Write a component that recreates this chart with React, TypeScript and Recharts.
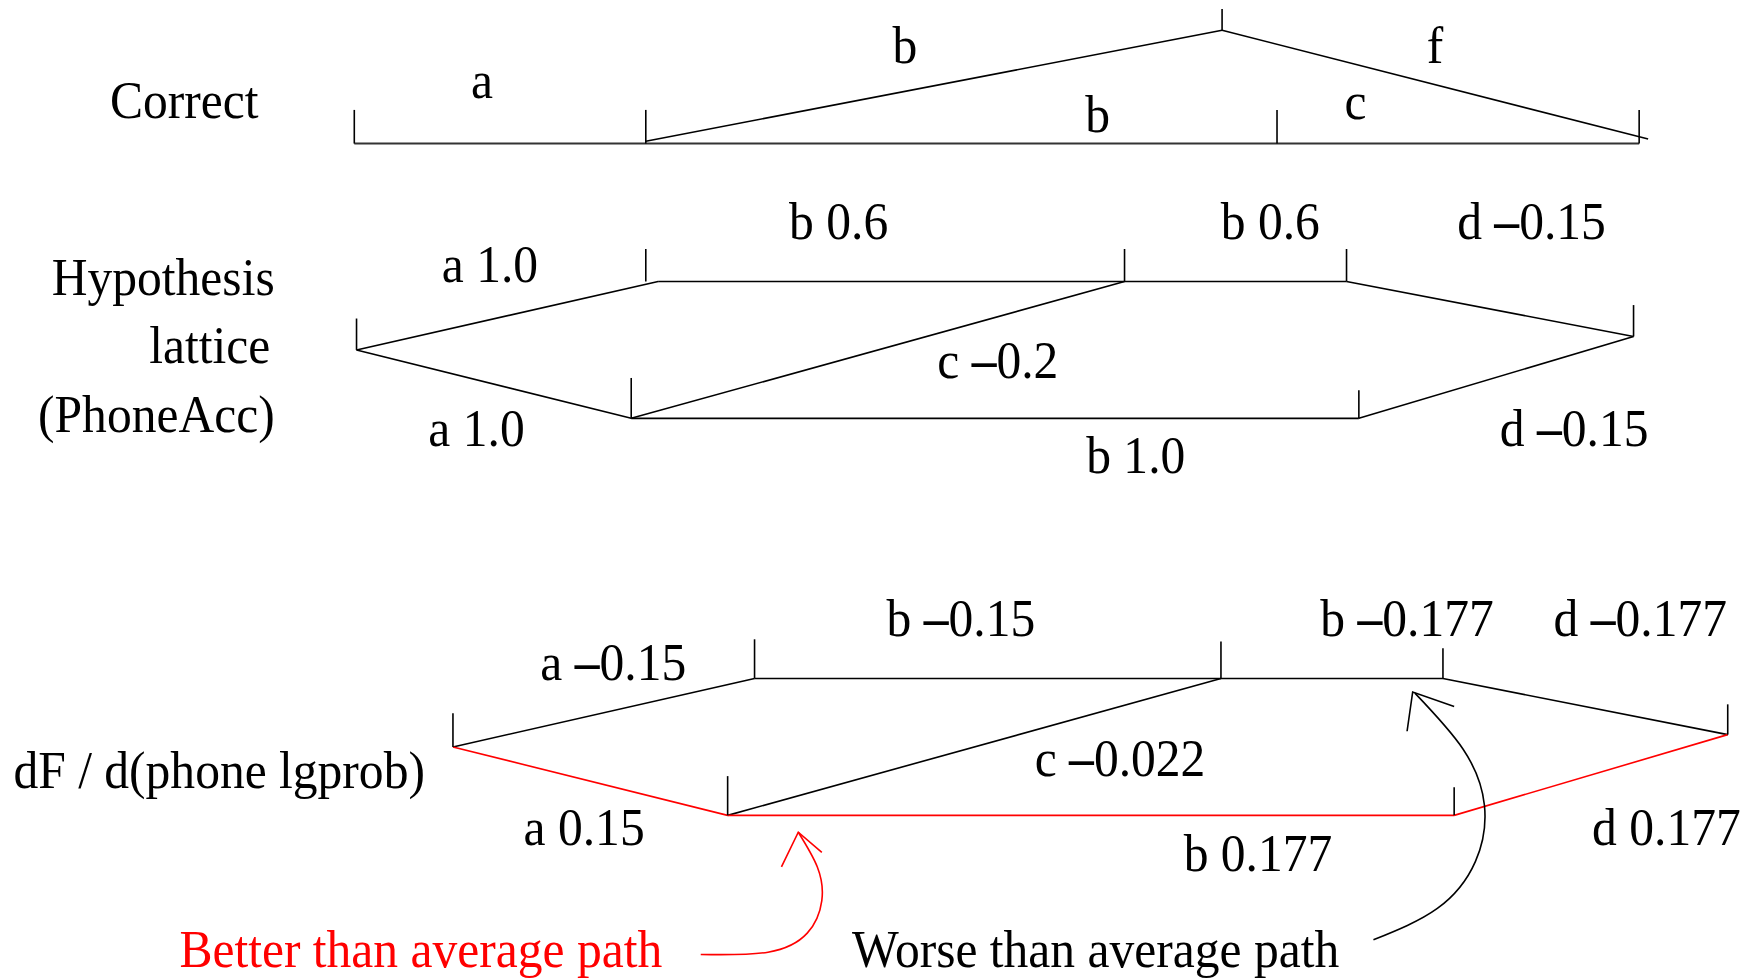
import React from "react";
import { ScatterChart, Scatter, XAxis, YAxis } from "recharts";

// diagram space (x right, y down)
const VIEW_W = 1568;
const VIEW_H = 872;

type P = [number, number];
type Seg = { pts: P[]; color: string; width?: number; curve?: boolean };
type Lbl = { x: number; y: number; text: string; color?: string; anchor?: "start" | "middle" | "end" };

// "Correct" transcription
const correctSegs: Seg[] = [
  { pts: [[316, 128], [1462, 128]], color: "#333", width: 2 },
  { pts: [[576, 126], [1090, 27]], color: "#000" },
  { pts: [[1090, 27], [1470, 124]], color: "#000" },
];
const correctTicks: P[][] = [
  [[316, 98], [316, 128]],
  [[576, 98], [576, 128]],
  [[1139, 98], [1139, 128]],
  [[1462, 98], [1462, 128]],
  [[1090, 8], [1090, 27]],
];

// hypothesis lattice (PhoneAcc)
const latticeSegs: Seg[] = [
  { pts: [[318, 312], [587, 251]], color: "#000" },
  { pts: [[587, 251], [1201, 251]], color: "#000" },
  { pts: [[1201, 251], [1457, 300]], color: "#000" },
  { pts: [[318, 312], [563, 373]], color: "#000" },
  { pts: [[563, 373], [1212, 373]], color: "#000" },
  { pts: [[1212, 373], [1457, 300]], color: "#000" },
  { pts: [[563, 373], [1003, 251]], color: "#000" },
];
const latticeTicks: P[][] = [
  [[318, 284], [318, 312]],
  [[576, 222], [576, 251]],
  [[1003, 222], [1003, 251]],
  [[1201, 222], [1201, 251]],
  [[1457, 272], [1457, 300]],
  [[563, 337], [563, 373]],
  [[1212, 348], [1212, 373]],
];

// dF / d(phone lgprob) lattice
const gradSegs: Seg[] = [
  { pts: [[404, 666], [673, 605]], color: "#000" },
  { pts: [[673, 605], [1287, 605]], color: "#000" },
  { pts: [[1287, 605], [1541, 655]], color: "#000" },
  { pts: [[649, 727], [1089, 605]], color: "#000" },
  { pts: [[404, 666], [649, 727]], color: "#ff0000" },
  { pts: [[649, 727], [1297, 727]], color: "#ff0000" },
  { pts: [[1297, 727], [1541, 655]], color: "#ff0000" },
];
const gradTicks: P[][] = [
  [[404, 636], [404, 666]],
  [[673, 570], [673, 605]],
  [[1089, 572], [1089, 605]],
  [[1287, 578], [1287, 605]],
  [[1541, 628], [1541, 655]],
  [[649, 692], [649, 727]],
  [[1297, 702], [1297, 727]],
];

// callout arrows
const arrowSegs: Seg[] = [
  { pts: [[625, 851], [685, 849], [720, 832], [733, 803], [729, 773], [712, 742]], color: "#ff0000", curve: true },
  { pts: [[697, 773], [712, 742], [733, 760]], color: "#ff0000" },
  { pts: [[1225, 838], [1282, 810], [1316, 768], [1324, 718], [1305, 668], [1262, 618]], color: "#000", curve: true },
  { pts: [[1255, 652], [1260, 617], [1297, 630]], color: "#000" },
];

const rowLabels: Lbl[] = [
  { x: 98, y: 105, text: "Correct", anchor: "start" },
  { x: 245, y: 263, text: "Hypothesis", anchor: "end" },
  { x: 241, y: 324, text: "lattice", anchor: "end" },
  { x: 245, y: 385, text: "(PhoneAcc)", anchor: "end" },
  { x: 12, y: 703, text: "dF / d(phone lgprob)", anchor: "start" },
];

const correctLabels: Lbl[] = [
  { x: 430, y: 87, text: "a" },
  { x: 807, y: 56, text: "b" },
  { x: 1280, y: 56, text: "f" },
  { x: 979, y: 118, text: "b" },
  { x: 1209, y: 106, text: "c" },
];

const latticeLabels: Lbl[] = [
  { x: 437, y: 251, text: "a 1.0" },
  { x: 748, y: 213, text: "b 0.6" },
  { x: 1133, y: 213, text: "b 0.6" },
  { x: 1366, y: 213, text: "d −0.15" },
  { x: 890, y: 337, text: "c −0.2" },
  { x: 425, y: 398, text: "a 1.0" },
  { x: 1013, y: 422, text: "b 1.0" },
  { x: 1404, y: 398, text: "d −0.15" },
];

const gradLabels: Lbl[] = [
  { x: 547, y: 606, text: "a −0.15" },
  { x: 857, y: 567, text: "b −0.15" },
  { x: 1255, y: 567, text: "b −0.177" },
  { x: 1463, y: 567, text: "d −0.177" },
  { x: 999, y: 692, text: "c −0.022" },
  { x: 521, y: 753, text: "a 0.15" },
  { x: 1122, y: 777, text: "b 0.177" },
  { x: 1420, y: 753, text: "d 0.177", anchor: "start" },
];

const noteLabels: Lbl[] = [
  { x: 160, y: 862, text: "Better than average path", color: "#ff0000", anchor: "start" },
  { x: 760, y: 862, text: "Worse than average path", anchor: "start" },
];

const FONT = "'Liberation Serif', 'Times New Roman', serif";

const toPts = (pts: P[]) => pts.map(([x, y]) => ({ x, y }));

const Empty = () => <g />;

// Times-like text, a little taller and narrower like the scanned figure
const TextShape = (props: any) => {
  const { cx, cy, payload } = props;
  const parts = String(payload.text).split("−");
  return (
    <text
      transform={`translate(${cx},${cy}) scale(0.935,1)`}
      x={0}
      y={0}
      textAnchor={payload.anchor || "middle"}
      fill={payload.color || "#000"}
      fontSize={53}
      fontFamily={FONT}
    >
      {parts.map((p: string, i: number) => (
        <React.Fragment key={i}>
          {i > 0 && <tspan fontWeight="bold">–</tspan>}
          {p}
        </React.Fragment>
      ))}
    </text>
  );
};

const allSegs: Seg[] = [
  ...correctSegs,
  ...correctTicks.map((pts) => ({ pts, color: "#000" })),
  ...latticeSegs,
  ...latticeTicks.map((pts) => ({ pts, color: "#000" })),
  ...gradSegs,
  ...gradTicks.map((pts) => ({ pts, color: "#000" })),
  ...arrowSegs,
];

const allLabels: Lbl[] = [...rowLabels, ...correctLabels, ...latticeLabels, ...gradLabels, ...noteLabels];

export default function App() {
  return (
    <div style={{ position: "absolute", left: 0, top: 0, background: "#fff" }}>
      <ScatterChart width={1758} height={978} margin={{ top: 0, right: 0, bottom: 0, left: 0 }}>
        <XAxis type="number" dataKey="x" domain={[0, VIEW_W]} allowDataOverflow hide />
        <YAxis type="number" dataKey="y" domain={[0, VIEW_H]} allowDataOverflow reversed hide />
        {allSegs.map((s, i) => (
          <Scatter
            key={"s" + i}
            data={toPts(s.pts)}
            line={{ stroke: s.color, strokeWidth: s.width || 1.6, fill: "none" }}
            lineJointType={s.curve ? "natural" : "linear"}
            shape={Empty}
            isAnimationActive={false}
          />
        ))}
        <Scatter data={allLabels} shape={TextShape} isAnimationActive={false} />
      </ScatterChart>
    </div>
  );
}
